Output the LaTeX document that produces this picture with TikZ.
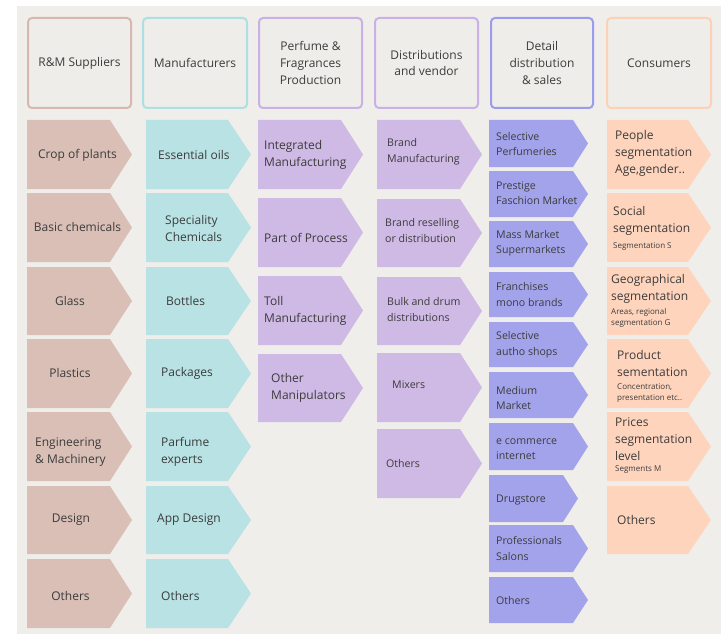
\documentclass[tikz,border=0pt]{standalone}
\usepackage{fontspec}
\setmainfont{Open Sans}
\definecolor{bgc}{HTML}{EFEEEB}
\definecolor{hdrfill}{HTML}{EEEDE9}
\definecolor{cA}{HTML}{D9BFB6}
\definecolor{cB}{HTML}{B8E2E3}
\definecolor{cC}{HTML}{CFB9E5}
\definecolor{cE}{HTML}{A3A3EC}
\definecolor{cF}{HTML}{FFD4BD}
\definecolor{bA}{HTML}{D6B8AF}
\definecolor{bB}{HTML}{AEDFE2}
\definecolor{bC}{HTML}{C9B0E6}
\definecolor{bE}{HTML}{9C9CEC}
\definecolor{bF}{HTML}{FDD0B8}
\definecolor{txt}{HTML}{3C3C3C}
\newcommand\chev[6]{\fill[#6] (#1,#4) -- (#2,#4) -- (#3,{(#4+#5)/2}) -- (#2,#5) -- (#1,#5) -- cycle;}
\tikzset{
  hdr/.style={line width=2pt, rounded corners=4pt, fill=hdrfill},
  htext/.style={text=txt, font=\fontsize{12}{17}\selectfont, align=center, inner sep=0pt},
  big/.style={text=txt, font=\fontsize{12}{17}\selectfont, align=left, inner sep=0pt, anchor=west},
  bigc/.style={text=txt, font=\fontsize{12}{17}\selectfont, align=center, inner sep=0pt},
  small/.style={text=txt, font=\fontsize{10.6}{15.5}\selectfont, align=left, inner sep=0pt, anchor=west},
  tiny/.style={text=txt, font=\fontsize{8}{11}\selectfont, align=left, inner sep=0pt, anchor=west}
}
\begin{document}
\begin{tikzpicture}[x=1pt,y=-1pt]
\useasboundingbox (0,0) rectangle (721,634);
\fill[bgc] (17,6) rectangle (721,634);
% headers
\draw[hdr, draw=bA] (28,18) rectangle (131,108);
\draw[hdr, draw=bB] (143,18) rectangle (247,108);
\draw[hdr, draw=bC] (259,18) rectangle (362,108);
\draw[hdr, draw=bC] (375,18) rectangle (478,108);
\draw[hdr, draw=bE] (491,18) rectangle (593,108);
\draw[hdr, draw=bF] (607,18) rectangle (711,108);
\node[htext] (h1) at (79.5,63) {R\&M Suppliers};
\node[htext] (h2) at (195,63) {Manufacturers};
\node[htext] (h3) at (310.5,63) {Perfume \&\\Fragrances\\Production};
\node[htext] (h4) at (426.5,63) {Distributions\\and vendor};
\node[htext] (h5) at (542,63) {Detail\\distribution\\\& sales};
\node[htext] (h6) at (659,63) {Consumers};
% column 1
\foreach \a/\b in {120/189,193/262,267/335,339/408,412/481,486/554,559/628}{\chev{27}{110}{132}{\a}{\b}{cA}}
% column 2
\foreach \a/\b in {120/189,193/262,267/335,339/408,412/481,486/554,559/628}{\chev{146}{228}{251}{\a}{\b}{cB}}
% column 3
\foreach \a/\b in {120/189,198/267,276/345,354/422}{\chev{258}{341}{363}{\a}{\b}{cC}}
% column 4
\foreach \a/\b in {120/189,199/267,277/345,353/422,429/498}{\chev{377}{460}{482}{\a}{\b}{cC}}
% column 5
\foreach \a/\b in {120/167,171/217,221/267,272/317,322/367,372/418,423/470,525/572,577/623}{\chev{489}{573}{588}{\a}{\b}{cE}}
\chev{489}{563}{578}{475}{522}{cE}
% column 6
\foreach \a/\b in {120/189,193/262,267/335,339/408,412/481,486/554}{\chev{607}{688}{711}{\a}{\b}{cF}}
% texts column 1
\node[bigc] (a1) at (77.5,155) {Crop of plants};
\node[bigc] (a2) at (77.5,227) {Basic chemicals};
\node[bigc] (a3) at (70,301) {Glass};
\node[bigc] (a4) at (70,373) {Plastics};
\node[big] (a5) at (35,452) {Engineering\\\& Machinery};
\node[bigc] (a6) at (71,520) {Design};
\node[bigc] (a7) at (70.5,596) {Others};
% column 2
\node[big] (b1) at (158,155) {Essential oils};
\node[big] (b2) at (165,228) {Speciality\\Chemicals};
\node[big] (b3) at (166,301) {Bottles};
\node[big] (b4) at (161,373) {Packages};
\node[big] (b5) at (161,452) {Parfume\\experts};
\node[big] (b6) at (157,520) {App Design};
\node[big] (b7) at (161,596) {Others};
% column 3
\node[big] (c1) at (264,155) {Integrated\\Manufacturing};
\node[big] (c2) at (264,238) {Part of Process};
\node[big] (c3) at (264,311) {Toll\\Manufacturing};
\node[big] (c4) at (271,388) {Other\\Manipulators};
% column 4
\node[small] (d1) at (387,151.5) {Brand\\Manufacturing};
\node[small] (d2) at (385,230.5) {Brand reselling\\or distribution};
\node[small] (d3) at (387,309.5) {Bulk and drum\\distributions};
\node[small] (d4) at (392,385) {Mixers};
\node[small] (d5) at (386,464) {Others};
% column 5
\node[small] (e1) at (496,144) {Selective\\Perfumeries};
\node[small] (e2) at (496,193) {Prestige\\Faschion Market};
\node[small] (e3) at (496,243) {Mass Market\\Supermarkets};
\node[small] (e4) at (496,294.5) {Franchises\\mono brands};
\node[small] (e5) at (496,344.5) {Selective\\autho shops};
\node[small] (e6) at (496,398) {Medium\\Market};
\node[small] (e7) at (496,449) {e commerce\\internet};
\node[small] (e8) at (496,500) {Drugstore};
\node[small] (e9) at (496,548.5) {Professionals\\Salons};
\node[small] (e10) at (496,601) {Others};
% column 6
\node[big] (f1) at (615,153.5) {People\\segmentation\\Age,gender..};
\node[big] (f2) at (613,220.5) {Social\\segmentation};
\node[tiny] (f2s) at (613,247) {Segmentation S};
\node[big] (f3) at (611,289) {Geographical\\segmentation};
\node[tiny] (f3s) at (611,317.5) {Areas, regional\\segmentation G};
\node[big] (f4) at (617,363.5) {Product\\sementation};
\node[tiny] (f4s) at (617,393) {Concentration,\\presentation etc..};
\node[big] (f5) at (615,439) {Prices\\segmentation\\level};
\node[tiny] (f5s) at (615,470) {Segments M};
\node[big] (f6) at (617,520) {Others};
\end{tikzpicture}
\end{document}
